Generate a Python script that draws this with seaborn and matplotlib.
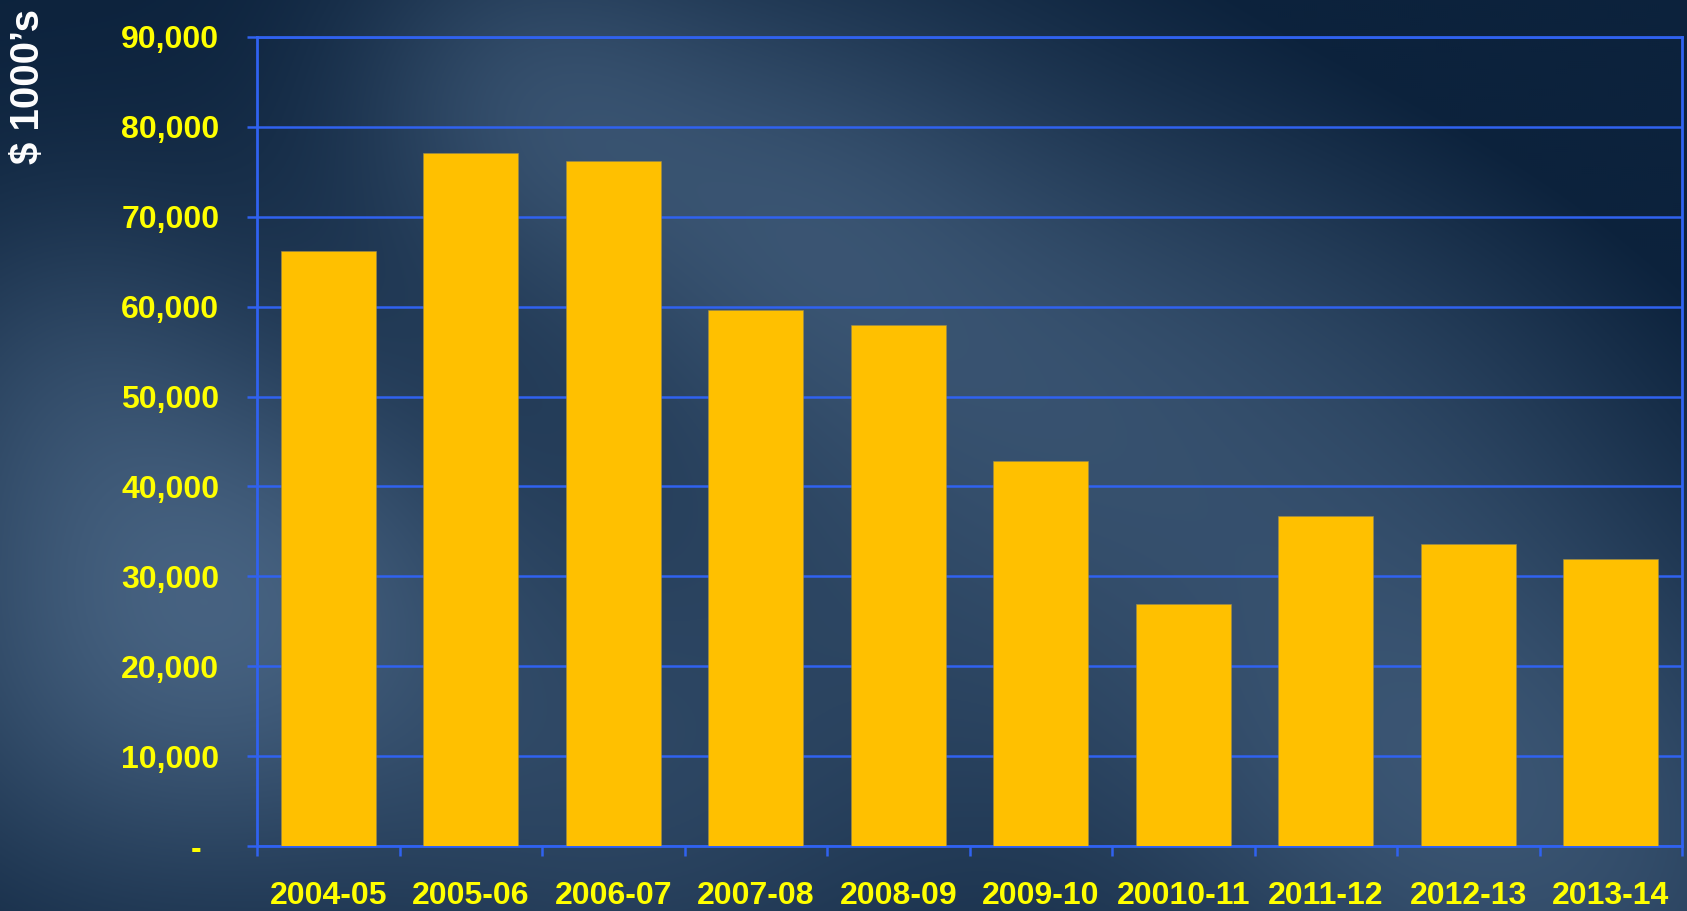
import numpy as np
import pandas as pd
import matplotlib
matplotlib.use("Agg")
import matplotlib.pyplot as plt
from matplotlib.ticker import FuncFormatter, FixedLocator
import seaborn as sns

years = ["2004-05", "2005-06", "2006-07", "2007-08", "2008-09",
         "2009-10", "20010-11", "2011-12", "2012-13", "2013-14"]
values = [66200, 77100, 76250, 59650, 57950, 42800, 26900, 36700, 33600, 31900]
y_ticks = [0, 10000, 20000, 30000, 40000, 50000, 60000, 70000, 80000, 90000]

sns.set_theme(style="white")
plt.rcParams['font.family'] = ['Liberation Sans', 'DejaVu Sans']

W, H = 1687, 911
fig = plt.figure(figsize=(W / 100, H / 100), dpi=100)

# background texture (decorative gradient)
bg_ax = fig.add_axes([0, 0, 1, 1], zorder=0)
yy, xx = np.mgrid[0:H:2, 0:W:2].astype(float)
light = np.zeros_like(xx)
k = 1.076
blobs = [(480, 90, 130, 0.5), (720, 190, 160, 0.5), (120, 600, 190, 0.7),
         (60, 330, 130, 0.3), (1000, 320, 190, 0.4), (1350, 330, 210, 0.4),
         (1500, 800, 210, 0.5), (300, 520, 150, 0.3), (850, 600, 240, 0.3),
         (1250, 700, 190, 0.35), (550, 750, 190, 0.35)]
for cx, cy, s, a in blobs:
    light += a * np.exp(-((xx - cx * k) ** 2 + (yy - cy * k) ** 2) / (2 * (s * k) ** 2))
light -= 0.35 * np.exp(-((xx - 1650) ** 2 + (yy - 30) ** 2) / (2 * 320 ** 2))
light = np.clip(light, 0, 1)
dark = np.array([0x0c, 0x22, 0x3c]) / 255
lite = np.array([0x4a, 0x66, 0x85]) / 255
img = dark[None, None, :] + light[..., None] * (lite - dark)[None, None, :]
bg_ax.imshow(img, aspect="auto", extent=[0, 1, 0, 1], origin="upper")
bg_ax.set_axis_off()

ax = fig.add_axes([257 / W, 1 - 846 / H, (1682 - 257) / W, (846 - 37) / H], zorder=1)
ax.set_facecolor("none")

df = pd.DataFrame({"year": years, "value": values})
sns.barplot(data=df, x="year", y="value", color="#FFC000", saturation=1,
            width=0.667, ax=ax, zorder=3, edgecolor="#9a8a50", linewidth=0.4)

blue = "#3062f0"
ax.set_ylim(0, 90000)
ax.set_xlim(-0.5, len(years) - 0.5)
ax.yaxis.set_major_locator(FixedLocator(y_ticks))
ax.yaxis.set_major_formatter(FuncFormatter(lambda v, p: "-  " if v == 0 else f"{int(v):,}"))
ax.grid(axis="y", color=blue, linewidth=1.8, zorder=1)
ax.set_axisbelow(True)
for s in ax.spines.values():
    s.set_visible(True)
    s.set_color(blue)
    s.set_linewidth(2.0)

ax.tick_params(axis="y", which="major", direction="out", length=7, width=1.8,
               color=blue, pad=20, labelsize=23, labelcolor="#FFFF00", left=True)
ax.xaxis.set_minor_locator(FixedLocator(np.arange(-0.5, len(years), 1.0)))
ax.tick_params(axis="x", which="major", length=0, pad=25, labelsize=23,
               labelcolor="#FFFF00")
ax.tick_params(axis="x", which="minor", direction="out", length=7, width=1.8,
               color=blue, bottom=True)
for lab in ax.get_xticklabels() + ax.get_yticklabels():
    lab.set_fontweight("bold")
ax.set_xlabel("")
ax.set_ylabel("")

fig.text(28 / W, 1 - 87 / H, "$ 1000\u2019s", rotation=90, color="white",
         fontsize=29, fontweight="bold", ha="center", va="center")

fig.savefig("out.png", dpi=100)
